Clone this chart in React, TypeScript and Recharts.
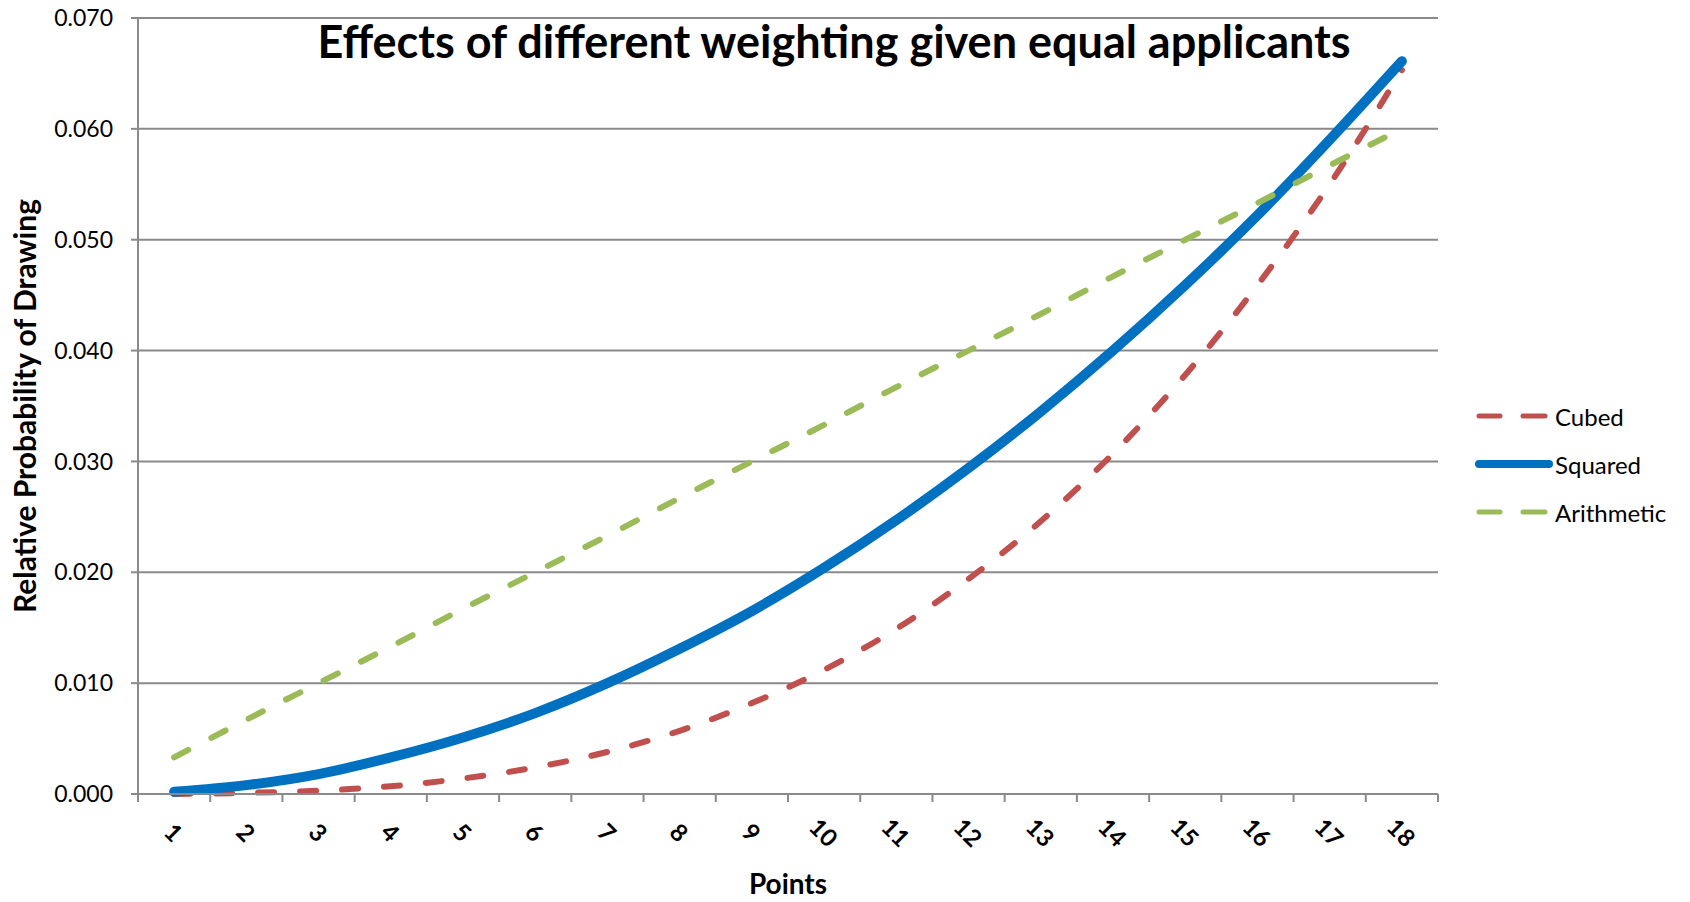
import React from 'react';
import { LineChart, Line, XAxis, YAxis, CartesianGrid, Legend } from 'recharts';

const points = [1, 2, 3, 4, 5, 6, 7, 8, 9, 10, 11, 12, 13, 14, 15, 16, 17, 18];
const cubed = [0.0000, 0.0001, 0.0003, 0.0007, 0.0014, 0.0024, 0.0038, 0.0057, 0.0082, 0.0112, 0.0149, 0.0194, 0.0246, 0.0307, 0.0378, 0.0459, 0.0550, 0.0653];
const squared = [0.0002, 0.0008, 0.0018, 0.0033, 0.0051, 0.0073, 0.0100, 0.0131, 0.0165, 0.0204, 0.0247, 0.0294, 0.0345, 0.0400, 0.0459, 0.0522, 0.0590, 0.0661];
const arithmetic = [0.0033, 0.0067, 0.0100, 0.0133, 0.0167, 0.0200, 0.0233, 0.0267, 0.0300, 0.0333, 0.0367, 0.0400, 0.0433, 0.0467, 0.0500, 0.0533, 0.0567, 0.0600];
const yTicks = [0, 0.01, 0.02, 0.03, 0.04, 0.05, 0.06, 0.07];
const title = 'Effects of different weighting given equal applicants';
const yTitle = 'Relative Probability of Drawing';
const xTitle = 'Points';

const data = points.map((p, i) => ({ point: p, cubed: cubed[i], squared: squared[i], arithmetic: arithmetic[i] }));
// category centres (labels) and category boundaries (tick marks)
const xTicks = [points[0] - 0.5, ...points.flatMap((p) => [p, p + 0.5])];

const FONT = 'Lato, "Open Sans", sans-serif';
const GRID = '#8a8a8a';
const RED = '#C0504D';
const BLUE = '#0070C0';
const GREEN = '#9BBB59';

const legendItems = [
  { name: 'Cubed', color: RED, dashed: true },
  { name: 'Squared', color: BLUE, dashed: false },
  { name: 'Arithmetic', color: GREEN, dashed: true },
];

const renderLegend = () => (
  <div style={{ fontFamily: FONT, fontSize: 24, color: '#000', width: 215 }}>
    {legendItems.map((it) => (
      <div key={it.name} style={{ display: 'flex', alignItems: 'center', height: 48 }}>
        <svg width={78} height={20} style={{ display: 'block' }}>
          {it.dashed ? (
            <g stroke={it.color} strokeWidth={5} strokeLinecap="round">
              <line x1={4} y1={10} x2={25} y2={10} />
              <line x1={48} y1={10} x2={70} y2={10} />
            </g>
          ) : (
            <line x1={4} y1={10} x2={74} y2={10} stroke={it.color} strokeWidth={8} strokeLinecap="round" />
          )}
        </svg>
        <span style={{ marginLeft: 2 }}>{it.name}</span>
      </div>
    ))}
  </div>
);

const XTick = (props: any) => {
  const { x, y, payload } = props;
  const v = payload.value as number;
  if (Number.isInteger(v)) {
    return (
      <g transform={`translate(${x},${y + 38}) rotate(45)`}>
        <text x={0} y={0} textAnchor="middle" dominantBaseline="central" fontFamily={FONT} fontWeight="bold" fontSize={24} fill="#000">
          {v}
        </text>
      </g>
    );
  }
  return <line x1={x} y1={y} x2={x} y2={y + 8} stroke={GRID} strokeWidth={2} />;
};

const YLabel = (props: any) => {
  const { viewBox } = props;
  const cx = viewBox.x + 24;
  const cy = viewBox.y + viewBox.height / 2;
  return (
    <text x={cx} y={cy} transform={`rotate(-90, ${cx}, ${cy})`} textAnchor="middle" dominantBaseline="central" fontFamily={FONT} fontWeight="bold" fontSize={30} fill="#000">
      {yTitle}
    </text>
  );
};

const XLabel = (props: any) => {
  const { viewBox } = props;
  const cx = viewBox.x + viewBox.width / 2;
  const cy = viewBox.y + 89;
  return (
    <text x={cx} y={cy} textAnchor="middle" dominantBaseline="central" fontFamily={FONT} fontWeight="bold" fontSize={28} fill="#000">
      {xTitle}
    </text>
  );
};

export default function App() {
  return (
    <div style={{ position: 'absolute', left: 0, top: 0, width: 1690, height: 902, background: '#fff' }}>
      <LineChart width={1690} height={902} data={data} margin={{ top: 18, right: 37, left: 0, bottom: 0 }}>
        <CartesianGrid vertical={false} stroke={GRID} strokeWidth={2} />
        <XAxis
          dataKey="point"
          type="number"
          domain={[xTicks[0], xTicks[xTicks.length - 1]]}
          ticks={xTicks}
          interval={0}
          tick={<XTick />}
          tickLine={false}
          tickSize={0}
          tickMargin={0}
          height={108}
          axisLine={{ stroke: GRID, strokeWidth: 2 }}
          label={<XLabel />}
        />
        <YAxis
          domain={[0, 0.07]}
          ticks={yTicks}
          interval={0}
          width={138}
          tickFormatter={(v: number) => v.toFixed(3)}
          tick={{ fontFamily: FONT, fontSize: 23, fill: '#000' }}
          tickSize={7}
          tickMargin={18}
          axisLine={{ stroke: GRID, strokeWidth: 2 }}
          tickLine={{ stroke: GRID, strokeWidth: 2 }}
          label={<YLabel />}
        />
        <Legend
          content={renderLegend}
          layout="vertical"
          align="right"
          verticalAlign="middle"
          wrapperStyle={{ position: 'absolute', left: 1475, top: 392, width: 215 }}
        />
        <Line type="monotone" dataKey="cubed" name="Cubed" stroke={RED} strokeWidth={6} strokeDasharray="16 26" strokeLinecap="round" dot={false} activeDot={false} isAnimationActive={false} />
        <Line type="monotone" dataKey="squared" name="Squared" stroke={BLUE} strokeWidth={10} strokeLinecap="round" dot={false} activeDot={false} isAnimationActive={false} />
        <Line type="monotone" dataKey="arithmetic" name="Arithmetic" stroke={GREEN} strokeWidth={6} strokeDasharray="16 26" strokeLinecap="round" dot={false} activeDot={false} isAnimationActive={false} />
      </LineChart>
      <div
        style={{
          position: 'absolute',
          left: 234,
          width: 1200,
          top: 17,
          textAlign: 'center',
          fontFamily: FONT,
          fontWeight: 'bold',
          fontSize: 45,
          lineHeight: '48px',
          color: '#000',
        }}
      >
        {title}
      </div>
    </div>
  );
}
